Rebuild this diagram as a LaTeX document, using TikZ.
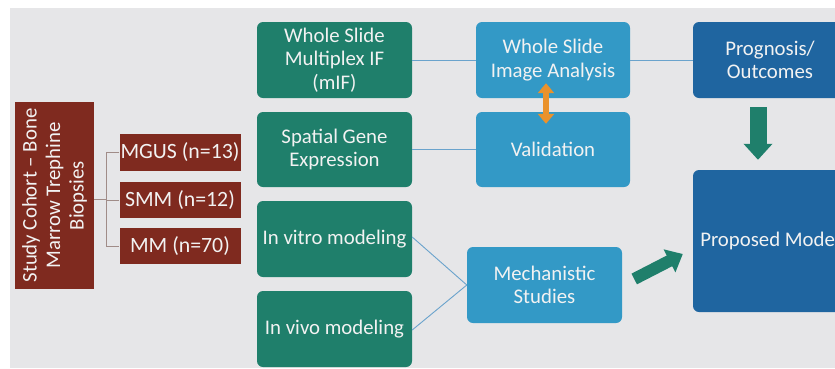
\documentclass[tikz,border=0pt]{standalone}
\usepackage{fontspec}
\setmainfont{Carlito}
\usetikzlibrary{arrows.meta}

\definecolor{bggray}{HTML}{E6E6E8}
\definecolor{cohortred}{HTML}{7F2A1F}
\definecolor{stepgreen}{HTML}{1F7F6B}
\definecolor{lightblue}{HTML}{3399C6}
\definecolor{darkblue}{HTML}{1F65A0}
\definecolor{boxtext}{HTML}{F2F2F2}
\definecolor{linkblue}{HTML}{6AA3CC}
\definecolor{linkbrown}{HTML}{A08C88}
\definecolor{arroworange}{HTML}{EA922B}

\tikzset{
  x=1pt, y=-1pt,
  basebox/.style={text=boxtext, align=center, inner sep=0pt,
    font=\fontsize{20.8}{23.5}\selectfont},
  redbox/.style={basebox, fill=cohortred},
  greenbox/.style={basebox, fill=stepgreen, rounded corners=6pt,
    minimum width=155pt, minimum height=76pt},
  lbluebox/.style={basebox, fill=lightblue, rounded corners=6pt,
    minimum width=154pt, minimum height=76pt},
  dbluebox/.style={basebox, fill=darkblue, rounded corners=6pt,
    minimum width=154pt},
  bluelink/.style={draw=linkblue, line width=0.9pt},
  brownlink/.style={draw=linkbrown, line width=0.9pt},
  fatarrow/.style={draw=stepgreen, line width=#1,
    -{Triangle[length=16pt, width=28pt]}},
}

\begin{document}
\begin{tikzpicture}
  \useasboundingbox (0,0) rectangle (835,368);
  \fill[bggray] (10,8) rectangle (835,368);

  % cohort and its three groups
  \node[redbox, rotate=90, minimum width=187pt, minimum height=79pt]
    (cohort) at (54.5,195.5) {Study Cohort – Bone\\Marrow Trephine\\Biopsies};
  \node[redbox, font=\fontsize{21.8}{24}\selectfont, minimum width=121pt, minimum height=37pt]
    (mgus) at (180,152.5) {MGUS (n=13)};
  \node[redbox, font=\fontsize{21.8}{24}\selectfont, minimum width=121pt, minimum height=36pt]
    (smm) at (180,200) {SMM (n=12)};
  \node[redbox, font=\fontsize{21.8}{24}\selectfont, minimum width=121pt, minimum height=36pt]
    (mm) at (180,246) {MM (n=70)};

  % data and modelling steps
  \node[greenbox] (mif) at (334.5,60) {Whole Slide\\Multiplex IF\\(mIF)};
  \node[greenbox, minimum height=75pt] (spatial) at (334.5,149.5) {Spatial Gene\\Expression};
  \node[greenbox] (vitro) at (334.5,239) {In vitro modeling};
  \node[greenbox] (vivo) at (334.5,329) {In vivo modeling};

  % analyses
  \node[lbluebox] (wsia) at (553,60) {Whole Slide\\Image Analysis};
  \node[lbluebox, minimum height=75pt] (valid) at (553,149.5) {Validation};
  \node[lbluebox, minimum width=155pt] (mech) at (544.5,285) {Mechanistic\\Studies};

  % outcomes, running off the right edge
  \begin{scope}
    \clip (0,0) rectangle (835,368);
    \node[dbluebox, minimum height=76pt] (prog) at (770,60) {Prognosis/\\Outcomes};
    \node[dbluebox, minimum height=142pt] (prop) at (770,241) {Proposed Model};
  \end{scope}

  % cohort tree
  \draw[brownlink] (mgus.west) -- ++(-13,0) coordinate (jt) -- (jt |- mm.west) -- (mm.west);
  \draw[brownlink] (smm.west) -- (smm.west -| jt);
  \draw[brownlink] ([yshift=-3.5pt]cohort.south) -- ([yshift=-3.5pt]cohort.south -| jt);

  % thin links
  \draw[bluelink] (mif.east) -- (wsia.west);
  \draw[bluelink] (spatial.east) -- (valid.west);
  \draw[bluelink] (wsia.east) -- (prog.west);
  \draw[bluelink] ([yshift=2pt]vitro.east) -- (mech.west);
  \draw[bluelink] ([yshift=-1pt]vivo.east) -- (mech.west);

  % block arrows
  \draw[fatarrow=17pt] ([xshift=-12pt,yshift=-9pt]prog.south) -- ([xshift=-12pt,yshift=10pt]prop.north);
  \draw[draw=stepgreen, line width=12pt, -{Triangle[length=15pt, width=25pt]}]
    ([xshift=12pt,yshift=6pt]mech.east) -- ([xshift=-10pt,yshift=-13pt]prop.west);
  \draw[draw=arroworange, line width=6pt,
        {Triangle[length=10pt, width=16pt]}-{Triangle[length=10pt, width=16pt]}]
    ([xshift=-7pt,yshift=15pt]wsia.south) -- ([xshift=-7pt,yshift=-12pt]valid.north);
\end{tikzpicture}
\end{document}
